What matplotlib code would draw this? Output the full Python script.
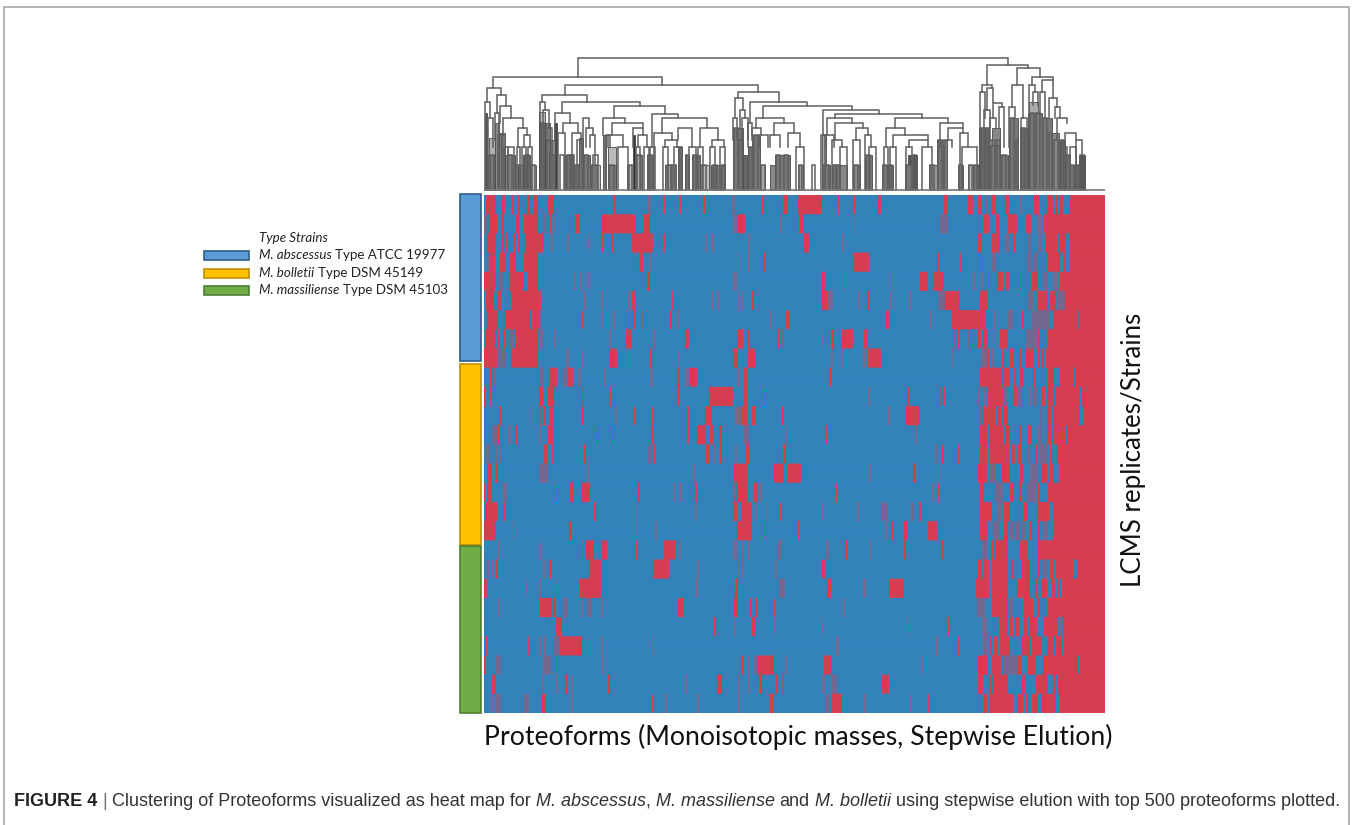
import numpy as np
import matplotlib
matplotlib.use("Agg")
import matplotlib.pyplot as plt
from matplotlib.colors import LinearSegmentedColormap
from matplotlib.patches import Rectangle

W, H = 1352, 825
N_POS = 621

# Heat map: per replicate, ranges along the clustered axis that are present (red)
red_rows = [
    [(2,11),(18,21),(28,29),(34,36),(43,46),(49,54),(57,58),(64,70),(129,132),(179,181),(195,197),(219,221),(225,226),(278,280),(299,304),(314,338),(354,355),(369,371),(394,397),(460,464),(484,489),(494,497),(507,512),(521,525),(550,555),(563,569),(572,574),(576,579),(586,621)],
    [(5,13),(17,20),(32,35),(39,54),(65,67),(91,96),(118,151),(159,166),(254,261),(315,319),(499,505),(512,515),(524,533),(542,547),(560,621)],
    [(3,12),(18,20),(22,23),(29,31),(34,36),(41,59),(118,119),(128,130),(148,169),(179,181),(320,325),(494,497),(508,515),(529,531),(561,573),(575,582),(585,621)],
    [(6,11),(15,21),(26,31),(39,54),(155,159),(280,282),(369,385),(453,455),(476,477),(497,498),(563,576),(579,582),(585,589),(589,621)],
    [(0,11),(25,39),(44,54),(163,166),(338,341),(436,444),(449,459),(503,504),(513,519),(522,525),(533,534),(547,554),(575,621)],
    [(2,10),(13,17),(27,57),(148,151),(188,189),(268,270),(338,344),(383,385),(461,475),(496,504),(553,563),(566,572),(581,621)],
    [(3,14),(21,46),(48,55),(98,99),(143,144),(149,151),(163,164),(186,188),(302,305),(402,405),(468,493),(494,501),(538,540),(569,593),(595,621)],
    [(1,11),(13,15),(19,21),(23,24),(31,54),(142,148),(201,205),(253,259),(264,266),(294,295),(347,350),(358,369),(380,383),(474,475),(489,490),(493,497),(499,503),(516,524),(554,556),(563,564),(564,621)],
    [(0,13),(27,54),(126,133),(166,168),(249,254),(264,271),(383,397),(503,505),(518,520),(526,529),(536,538),(542,550),(553,556),(558,560),(562,621)],
    [(6,8),(65,73),(84,89),(193,196),(206,213),(260,264),(345,347),(496,518),(519,526),(529,532),(536,539),(549,551),(563,570),(576,589),(591,621)],
    [(0,1),(6,7),(55,59),(63,70),(99,100),(126,127),(193,195),(225,249),(260,264),(279,280),(424,426),(459,461),(504,519),(529,533),(557,561),(563,569),(571,596),(598,621)],
    [(15,17),(59,62),(66,69),(98,100),(150,151),(168,169),(203,205),(221,228),(258,264),(268,272),(298,300),(422,435),(499,503),(504,512),(514,517),(519,524),(563,567),(569,595),(599,621)],
    [(14,15),(31,33),(64,69),(113,114),(127,128),(167,169),(203,205),(213,221),(226,229),(235,238),(342,343),(496,503),(505,519),(521,526),(536,538),(544,548),(563,568),(569,577),(578,581),(583,621)],
    [(60,64),(68,69),(100,102),(169,171),(221,226),(236,238),(262,265),(299,302),(458,460),(474,475),(495,503),(506,523),(524,526),(528,531),(533,538),(551,554),(566,568),(573,621)],
    [(3,8),(11,14),(250,264),(290,300),(303,311),(306,317),(429,432),(494,503),(513,514),(518,526),(536,539),(557,563),(566,570),(576,621)],
    [(0,1),(3,8),(71,72),(86,89),(98,106),(154,156),(211,213),(253,264),(270,274),(352,353),(454,455),(496,500),(526,529),(535,538),(553,556),(564,621)],
    [(1,13),(19,21),(110,112),(249,253),(257,268),(296,297),(435,437),(496,503),(504,507),(519,526),(539,543),(553,565),(569,621)],
    [(0,11),(85,88),(253,268),(277,278),(314,315),(407,409),(420,423),(444,453),(496,503),(519,524),(545,548),(554,556),(569,621)],
    [(99,100),(102,110),(118,123),(152,153),(180,192),(361,363),(420,422),(457,460),(507,509),(511,523),(536,544),(554,621)],
    [(12,14),(65,67),(105,117),(169,185),(338,341),(494,498),(499,505),(508,524),(527,530),(538,546),(554,556),(566,569),(572,589),(593,621)],
    [(0,3),(95,117),(251,254),(343,347),(405,420),(492,505),(508,524),(533,546),(551,554),(557,563),(568,571),(574,576),(578,621)],
    [(55,68),(69,72),(194,200),(250,254),(266,268),(271,273),(290,291),(508,523),(539,549),(553,556),(563,621)],
    [(72,78),(230,232),(268,271),(464,465),(515,523),(525,529),(531,536),(540,543),(545,553),(560,573),(579,621)],
    [(1,3),(44,45),(76,98),(474,475),(506,508),(510,513),(516,526),(538,546),(548,558),(563,569),(571,578),(580,621)],
    [(0,2),(69,70),(257,259),(274,290),(340,347),(494,503),(508,517),(533,538),(543,552),(559,563),(564,594),(596,621)],
    [(8,12),(81,84),(124,126),(233,238),(275,278),(292,294),(398,405),(494,499),(505,508),(509,524),(538,541),(552,563),(569,572),(574,621)],
    [(58,62),(168,169),(285,290),(348,358),(444,445),(499,503),(505,529),(533,539),(542,544),(548,554),(558,571),(575,621)],
]
# Thin ranges that read as a blurred purple line in the picture
faint_rows = [
    [(164,167),(248,251),(501,503),(536,538)],
    [(0,3),(59,62),(69,71),(249,253),(296,298),(371,372),(456,464),(553,558)],
    [(67,69),(83,85),(104,105),(221,223),(228,230),(264,266),(358,360),(521,525),(544,547),(554,557)],
    [(3,5),(149,150),(163,164),(165,167),(253,254),(264,266),(508,512),(543,547),(550,554)],
    [(15,19),(90,92),(96,98),(104,105),(249,253),(359,360),(409,410),(489,491),(497,499),(559,564),(569,574)],
    [(100,102),(117,119),(144,146),(228,229),(233,235),(254,255),(258,260),(344,349),(374,376),(406,408),(425,427),(454,461),(544,550),(573,581)],
    [(19,20),(56,58),(118,119),(129,131),(158,159),(193,195),(286,288),(446,448),(510,512),(524,529),(548,566),(592,595)],
    [(26,29),(56,59),(70,72),(125,127),(169,171),(298,300),(338,339),(469,471),(484,486),(513,514),(542,553)],
    [(14,21),(82,85),(98,99),(143,144),(194,195),(347,349),(358,359),(379,381),(468,469),(497,506),(508,510)],
    [(9,11),(55,57),(58,60),(79,83),(94,97),(120,122),(166,169),(201,205),(253,256)],
    [(384,386),(456,458),(494,496),(499,502),(520,524),(534,537),(545,547),(549,553)],
    [(49,50),(55,58),(131,133),(251,253),(254,257),(404,406),(496,498),(556,558)],
    [(8,13),(24,27),(55,57),(260,265),(302,303),(431,433),(553,558)],
    [(2,6),(11,13),(15,17),(95,96),(164,167),(230,232),(251,253),(451,453),(543,546),(556,563)],
    [(55,59),(59,64),(103,105),(209,211),(385,387),(453,454),(505,511),(546,554),(574,576)],
    [(19,23),(189,191),(196,198),(249,252),(275,278),(448,450),(511,519),(543,551)],
    [(19,21),(149,150),(211,213),(271,273),(283,284),(338,339),(373,375),(397,399),(400,403),(427,429),(513,518)],
    [(29,30),(149,150),(171,173),(401,403),(509,516),(526,530),(532,536),(538,542),(559,564)],
    [(14,16),(56,57),(195,197),(249,253),(258,260),(264,266),(294,298),(342,345),(386,388),(498,503)],
    [(3,5),(8,9),(59,61),(213,215),(253,255),(258,259),(291,293),(559,563)],
    [(42,43),(55,57),(71,72),(212,214),(295,301),(379,382)],
    [(14,16),(79,84),(97,99),(103,108),(117,119),(359,361),(493,501),(525,529)],
    [(250,252),(290,291),(338,339),(423,424),(498,503),(575,578)],
    [(55,57),(60,62),(70,76),(103,104),(117,119),(169,170),(352,355),(452,454),(499,503)],
    [(12,17),(59,67),(118,120),(264,266),(270,273),(301,303),(438,439),(519,533)],
    [(58,60),(72,74),(87,89),(201,203),(254,256),(264,266),(298,300),(338,341),(347,353)],
    [(8,9),(12,17),(40,45),(87,89),(181,183),(213,215),(254,256),(342,346),(380,382),(426,427)],
]

# Dendrogram: (left x, right x, height, left stem bottom, right stem bottom)
links = [
    (94,524,132,113,125),(9,178,113,102,105),(81,274,105,95,98),(3,17,102,88,95),
    (1,6,88,0,72),(4,9,72,0,43),(13,22,95,77,84),(16,27,84,67,72),(19,39,72,55,62),
    (34,43,62,43,55),(33,36,43,0,0),(40,46,55,43,43),(38,42,43,0,0),(44,48,43,0,0),
    (11,15,77,50,0),(24,30,43,0,0),(20,24,43,0,0),
    (58,103,95,88,88),(56,61,88,67,80),(59,65,80,67,62),(62,68,62,50,0),(66,70,35,0,0),
    (78,156,88,77,84),(71,86,77,50,67),(79,94,67,57,57),(74,81,57,0,0),(88,97,57,0,50),
    (76,80,35,0,0),(86,90,35,0,0),(93,98,50,0,0),(99,105,72,50,62),(102,109,62,43,55),
    (106,111,55,43,0),(109,114,35,0,0),
    (130,181,84,72,76),(119,141,72,55,67),(128,159,67,55,62),(124,139,55,43,43),(134,144,43,0,0),
    (122,126,55,0,43),(149,159,62,43,55),(154,163,55,43,43),(152,156,43,0,0),(160,165,43,0,0),
    (168,194,76,43,72),(178,223,72,57,62),(170,188,57,0,50),(166,171,43,0,0),(181,193,50,43,43),
    (179,184,43,0,0),(190,196,43,0,0),(194,208,62,50,43),(205,212,43,0,0),(216,234,62,43,50),
    (214,219,43,0,0),(228,240,50,43,43),(226,231,43,0,0),(236,241,43,0,0),
    (254,295,98,92,88),(251,259,92,72,80),(249,253,72,50,50),(256,261,80,62,72),(258,264,72,43,50),
    (266,323,88,67,84),(264,268,67,43,55),(279,368,84,72,80),(272,300,72,62,67),(268,277,62,50,55),
    (275,284,55,43,43),(290,310,67,55,57),(286,296,55,43,43),(304,316,57,43,43),(312,320,43,0,0),
    (339,395,80,55,76),(337,342,55,0,43),(351,438,76,72,72),(343,368,72,55,67),(341,350,55,0,43),
    (351,379,67,50,62),(348,358,50,0,43),(356,363,43,0,0),(372,384,62,50,55),(369,376,50,0,0),
    (381,387,55,0,43),(385,392,43,0,0),
    (411,464,72,62,67),(402,421,62,43,55),(400,404,43,0,0),(409,444,55,43,50),(406,412,43,0,0),
    (425,444,50,43,43),(422,428,43,0,0),(438,448,43,0,0),(456,479,67,43,62),(454,460,43,0,0),
    (464,479,62,50,57),(460,468,50,0,43),(476,484,57,0,43),(478,493,43,0,0),
    (503,544,125,105,122),(498,508,105,98,102),(496,501,98,62,72),(503,509,102,80,88),(500,506,80,62,62),
    (509,518,87,72,83),(506,512,72,50,62),(515,520,83,62,43),
    (533,556,122,105,113),(528,539,105,83,72),(525,531,83,43,72),(537,543,72,62,62),
    (548,569,113,105,110),(545,551,105,62,98),(549,554,98,85,85),(558,569,110,98,92),(556,561,98,67,72),
    (565,573,92,72,83),(571,576,83,72,72),(573,583,72,50,67),(581,592,57,43,50),(577,583,43,0,0),
    (586,592,43,0,0),(592,598,50,0,0),
]
# Lowest narrow joins, both stems down to the leaves: (left x, right x, height)
leaf_pairs = [
    (6,10,35),(14,18,55),(24,28,35),(32,36,25),(41,45,35),(47,51,25),(57,60,67),(63,66,50),(83,87,35),
    (91,95,25),(100,104,35),(108,113,25),(125,130,25),(145,148,25),(153,157,35),(164,168,35),(183,187,25),
    (188,192,25),(195,198,43),(202,205,35),(209,213,35),(218,222,25),(229,233,25),(238,241,25),(250,254,62),
    (255,258,50),(265,268,43),(270,274,55),(277,281,25),(292,296,35),(300,304,35),(315,318,25),(328,331,25),
    (339,345,25),(349,352,25),(353,356,25),(370,374,25),(382,386,35),(399,402,25),(405,408,25),(422,428,25),
    (429,432,35),(446,450,25),(454,458,50),(475,478,25),(485,488,25),(490,494,25),(497,501,62),(502,505,62),
    (507,511,50),(513,516,50),(518,522,35),(526,530,72),(532,534,50),(537,541,62),(546,550,77),(552,556,77),
    (559,563,72),(565,568,57),(570,574,50),(577,580,50),(582,585,35),(587,589,25),(591,594,25),(596,600,35),
]
# Filled leaf clusters: (left x, right x, height, grey)
leaf_blocks = [
    (1,3,77,"#555555"),(5,11,52,"#b0b0b0"),(3,11,35,"#777777"),(11,15,67,"#888888"),(15,21,57,"#777777"),
    (21,31,35,"#808080"),(31,34,25,"#bbbbbb"),(34,39,25,"#aaaaaa"),(39,43,35,"#666666"),(43,46,35,"#888888"),
    (46,52,25,"#bbbbbb"),
    (55,61,78,"#bbbbbb"),(55,61,67,"#666666"),(61,66,67,"#777777"),(66,71,50,"#888888"),(70,73,67,"#444444"),
    (81,89,35,"#777777"),(89,94,25,"#888888"),(95,99,52,"#777777"),(99,106,35,"#777777"),(107,116,25,"#bbbbbb"),
    (119,122,55,"#777777"),(124,132,43,"#bbbbbb"),(124,132,25,"#777777"),(143,149,25,"#bbbbbb"),(149,151,55,"#333333"),
    (152,158,35,"#aaaaaa"),(163,169,35,"#888888"),(181,192,25,"#999999"),(194,198,43,"#888888"),(201,205,35,"#777777"),
    (208,216,35,"#777777"),(216,225,25,"#bbbbbb"),(227,241,25,"#777777"),
    (249,259,62,"#777777"),(259,263,35,"#666666"),(264,268,43,"#777777"),(268,276,55,"#777777"),(276,281,25,"#aaaaaa"),
    (286,291,25,"#888888"),(291,306,35,"#777777"),(314,319,25,"#999999"),
    (338,342,55,"#aaaaaa"),(338,346,25,"#777777"),(348,356,25,"#777777"),(356,363,25,"#888888"),(369,376,25,"#888888"),
    (381,388,35,"#777777"),(398,403,25,"#bbbbbb"),(403,409,25,"#777777"),(421,429,25,"#777777"),(424,433,35,"#555555"),
    (445,453,25,"#999999"),(453,463,50,"#777777"),(474,479,25,"#bbbbbb"),(484,489,25,"#bbbbbb"),(489,495,25,"#777777"),
    (495,505,62,"#666666"),(505,516,45,"#777777"),(508,516,62,"#888888"),(516,524,35,"#777777"),(525,534,72,"#777777"),
    (536,544,62,"#666666"),(544,558,77,"#777777"),(545,554,88,"#aaaaaa"),(558,568,72,"#777777"),(568,575,57,"#888888"),
    (576,581,50,"#666666"),(581,586,35,"#999999"),(586,589,25,"#bbbbbb"),(590,595,25,"#777777"),(595,601,35,"#444444"),
]

# Group bar and legend
group_names = ["M. abscessus", "M. bolletii", "M. massiliense"]
group_types = ["Type ATCC 19977", "Type DSM 45149", "Type DSM 45103"]
group_spans = [(194, 361), (364, 545), (546, 713)]
group_fill = ["#5b9bd5", "#ffc000", "#70ad47"]
group_edge = ["#2f5d8c", "#bf9000", "#507e32"]
legend_y = [255, 273, 290]

cap_parts = [
    ("FIGURE 4", "normal", "bold", "#222222"),
    (" | ", "normal", "normal", "#777777"),
    ("Clustering of Proteoforms visualized as heat map for ", "normal", "normal", "#333333"),
    ("M. abscessus", "italic", "normal", "#333333"),
    (", ", "normal", "normal", "#333333"),
    ("M. massiliense", "italic", "normal", "#333333"),
    (" and ", "normal", "normal", "#333333"),
    ("M. bolletii", "italic", "normal", "#333333"),
    (" using stepwise elution with top 500 proteoforms plotted.", "normal", "normal", "#333333"),
]


def px_axes(x0, y0, x1, y1):
    ax = fig.add_axes([x0 / W, 1 - y1 / H, (x1 - x0) / W, (y1 - y0) / H])
    ax.axis("off")
    return ax


def rich_text(ax, x, y, parts, size, family):
    # pieces are put one after the other, measured through the renderer
    rend = fig.canvas.get_renderer()
    space = ax.text(0, 0, "a a", fontsize=size, family=family)
    nospace = ax.text(0, 0, "aa", fontsize=size, family=family)
    gap = space.get_window_extent(rend).width - nospace.get_window_extent(rend).width
    space.remove()
    nospace.remove()
    for s, style, weight, color in parts:
        if s.startswith(" "):
            x += gap
        t = ax.text(x, y, s.strip(), fontsize=size, family=family, style=style,
                    weight=weight, color=color, va="center", ha="left")
        x += t.get_window_extent(rend).width
        if s.endswith(" "):
            x += gap
    return x


fig = plt.figure(figsize=(W / 100, H / 100), dpi=100)

# page layer in pixels
page = fig.add_axes([0, 0, 1, 1])
page.set_xlim(0, W)
page.set_ylim(H, 0)
page.axis("off")
page.plot([4, 4, 1349, 1349], [H, 6.5, 6.5, H], color="#a6a6a6", lw=1.2)

for (y0, y1), fc, ec in zip(group_spans, group_fill, group_edge):
    page.add_patch(Rectangle((459.5, y0), 21, y1 - y0, fc=fc, ec=ec, lw=1.2))

page.text(259, 238, "Type Strains", fontsize=9.6, family="Lato", style="italic", va="center", color="#222222")
for name, typ, fc, ec, y in zip(group_names, group_types, group_fill, group_edge, legend_y):
    page.add_patch(Rectangle((203.5, y - 4.5), 45, 9.5, fc=fc, ec=ec, lw=1.2))
    rich_text(page, 259, y, [(name + " ", "italic", "normal", "#222222"), (typ, "normal", "normal", "#222222")], 9.6, "Lato")

page.text(484, 737, "Proteoforms (Monoisotopic masses, Stepwise Elution)", fontsize=19.2,
          family="Lato", va="center", ha="left", color="#111111")
page.text(1133, 450, "LCMS replicates/Strains", fontsize=18.6, family="Lato",
          rotation=90, va="center", ha="center", color="#111111")
rich_text(page, 14, 802, cap_parts, 13.0, "Liberation Sans")

# heat map
mat = np.zeros((len(red_rows), N_POS))
for i, row in enumerate(faint_rows):
    for a, b in row:
        mat[i, a:b] = 0.4
for i, row in enumerate(red_rows):
    for a, b in row:
        mat[i, a:b] = 1
cmap = LinearSegmentedColormap.from_list("pa", ["#3383bb", "#d73d50"])
hm = px_axes(484, 195, 1105, 713)
hm.imshow(np.repeat(mat, 20, axis=0), aspect="auto", cmap=cmap, vmin=0, vmax=1,
          interpolation="bilinear")

# dendrogram
dn = px_axes(484, 40, 1105, 192)
dn.set_xlim(0, N_POS)
dn.set_ylim(-2, 150)
for x0, x1, top, grey in sorted(leaf_blocks, key=lambda b: -b[2]):
    dn.bar(x0, top, width=x1 - x0, align="edge", color=grey, edgecolor="#4a4a4a", linewidth=0.6)
for xl, xr, h, bl, br in links:
    dn.plot([xl, xl, xr, xr], [bl, h, h, br], color="#5f5f5f", lw=1.1, solid_joinstyle="miter")
for xl, xr, h in leaf_pairs:
    dn.plot([xl, xl, xr, xr], [0, h, h, 0], color="#5f5f5f", lw=1.1, solid_joinstyle="miter")
dn.plot([0, N_POS], [0, 0], color="#777777", lw=1.2)

fig.savefig("out.png", dpi=100)
